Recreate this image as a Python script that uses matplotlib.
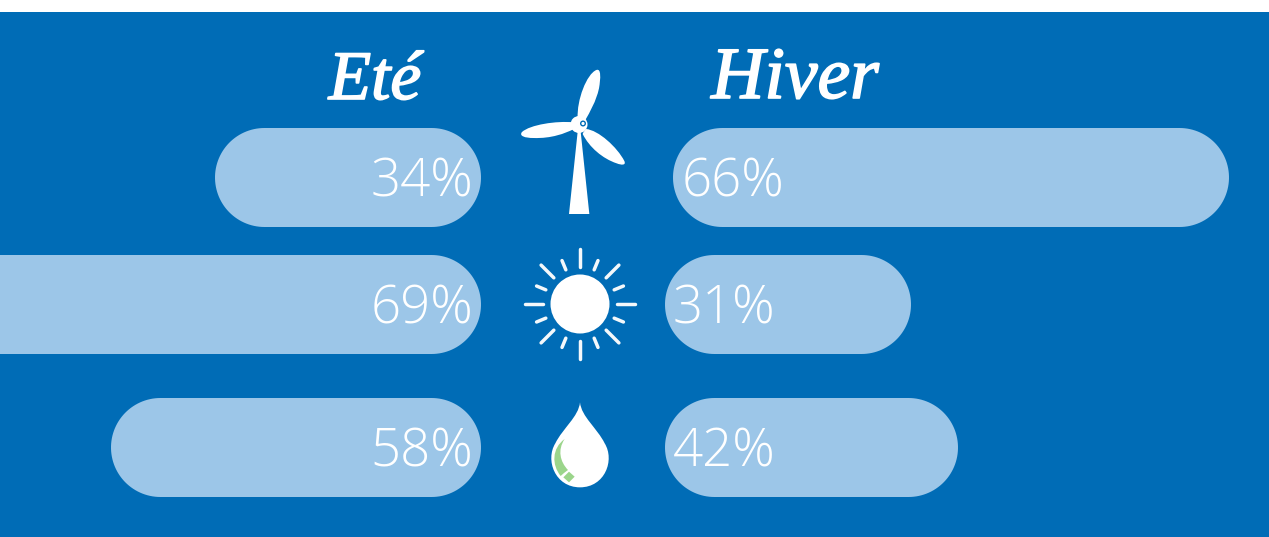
import numpy as np
import matplotlib
matplotlib.use('Agg')
import matplotlib.pyplot as plt
import matplotlib.patheffects as pe
from matplotlib.patches import PathPatch, Circle, Rectangle, Polygon
from matplotlib.path import Path

titles = ['Eté', 'Hiver']
ete_pct = [34, 69, 58]
hiver_pct = [66, 31, 42]
# drawn bar lengths (they are not proportional to the %)
ete_len = [266, 560, 370]
hiver_len = [556, 246, 293]

BLUE = '#006cb6'
PALE = '#9cc6e8'
GREEN = '#9bd58b'

row_y = [177.5, 304.5, 447.5]
bar_h = 99
ete_right = 481
hiver_left = [673, 665, 665]
hiver_text = [682, 673, 673]

fig = plt.figure(figsize=(12.69, 5.37), dpi=100, facecolor='white')
ax = fig.add_axes([0, 0, 1, 1])
ax.set_xlim(0, 1269)
ax.set_ylim(537, 0)
ax.axis('off')

ax.add_patch(Rectangle((0, 12), 1269, 525, fc=BLUE, ec='none', zorder=0))


def pill(x, y, w):
    # true half circles at both ends, boxstyle round gives a squarer corner
    r = bar_h / 2.0
    t = np.linspace(-np.pi / 2, np.pi / 2, 60)
    right = np.column_stack([x + w - r + r * np.cos(t), y + r * np.sin(t)])
    left = np.column_stack([x + r - r * np.cos(t), y - r * np.sin(t)])
    ax.add_patch(Polygon(np.vstack([right, left]), closed=True, fc=PALE, ec='none', zorder=1))


def curved(verts, fc='white'):
    # verts is a list of cubic segments in pixels: start, then 3 points per segment
    codes = [Path.MOVETO] + [Path.CURVE4] * (len(verts) - 1)
    verts = list(verts) + [verts[0]]
    codes = codes + [Path.CLOSEPOLY]
    ax.add_patch(PathPatch(Path(verts, codes), fc=fc, ec='none', zorder=3))


def zoomed(pts, ox, oy):
    # points measured on a 3x crop
    return [(ox + a / 3.0, oy + b / 3.0) for a, b in pts]


def turbine():
    up = [(233, 205), (230, 150), (260, 72), (289, 60),
          (304, 54), (302, 85), (297, 115), (288, 155), (270, 185), (256, 210),
          (250, 208), (240, 205), (233, 205)]
    left = [(220, 217), (170, 212), (90, 224), (66, 246),
            (56, 258), (75, 264), (100, 264), (155, 266), (195, 250), (220, 238),
            (220, 232), (220, 225), (220, 217)]
    right = [(258, 237), (295, 240), (352, 292), (373, 333),
             (379, 346), (365, 346), (350, 340), (308, 326), (268, 292), (248, 252),
             (250, 246), (254, 242), (258, 237)]
    for blade in [up, left, right]:
        curved(zoomed(blade, 500, 50))
    tower = [(233, 245), (242, 245), (268, 492), (207, 492)]
    ax.add_patch(Polygon(zoomed(tower, 500, 50), closed=True, fc='white', ec='none', zorder=3))
    ax.add_patch(Circle((579, 124.5), 8.5, fc='white', ec='none', zorder=3))
    ax.add_patch(Circle((583, 123.5), 3, fc=BLUE, ec='none', zorder=4))
    ax.add_patch(Circle((583, 123.5), 1.6, fc='white', ec='none', zorder=5))


def sun():
    cx, cy = 580, 304
    ax.add_patch(Circle((cx, cy), 29.5, fc='white', ec='none', zorder=3))
    for i in range(16):
        ang = np.radians(i * 22.5)
        r1 = 37
        r2 = 55 if i % 2 == 0 else 47
        ax.plot([cx + r1 * np.cos(ang), cx + r2 * np.cos(ang)],
                [cy + r1 * np.sin(ang), cy + r2 * np.sin(ang)],
                color='#f4f8fb', lw=2.5, solid_capstyle='round', zorder=3)


def drop():
    body = [(240, 487), (244, 530), (292, 565), (314, 610),
            (345, 660), (315, 742), (240, 742),
            (165, 742), (135, 660), (166, 610),
            (188, 565), (236, 530), (240, 487)]
    curved(zoomed(body, 500, 240))
    crescent = [(194, 597), (155, 625), (155, 675), (182, 708),
                (188, 702), (196, 696), (204, 690),
                (180, 665), (172, 630), (194, 597)]
    curved(zoomed(crescent, 500, 240), fc=GREEN)
    tip = [(190, 712), (207, 695), (224, 710), (207, 727)]
    ax.add_patch(Polygon(zoomed(tip, 500, 240), closed=True, fc=GREEN, ec='none', zorder=3))


for i in range(3):
    pill(ete_right - ete_len[i], row_y[i], ete_len[i])
    pill(hiver_left[i], row_y[i], hiver_len[i])
    ax.text(473.5, row_y[i] - 1, '%d%%' % ete_pct[i], color='white', fontsize=38,
            family='Open Sans', weight='light', ha='right', va='center_baseline', zorder=4)
    ax.text(hiver_text[i], row_y[i] - 1, '%d%%' % hiver_pct[i], color='white', fontsize=38,
            family='Open Sans', weight='light', ha='left', va='center_baseline', zorder=4)

thick = [pe.withStroke(linewidth=1.2, foreground='white')]
ax.text(375, 99, titles[0], color='white', fontsize=50, family='Liberation Serif',
        style='italic', ha='center', va='baseline', zorder=4, path_effects=thick)
ax.text(795, 98, titles[1], color='white', fontsize=53, family='Liberation Serif',
        style='italic', ha='center', va='baseline', zorder=4, path_effects=thick)

turbine()
sun()
drop()

fig.savefig('out.png', dpi=100, facecolor='white')
